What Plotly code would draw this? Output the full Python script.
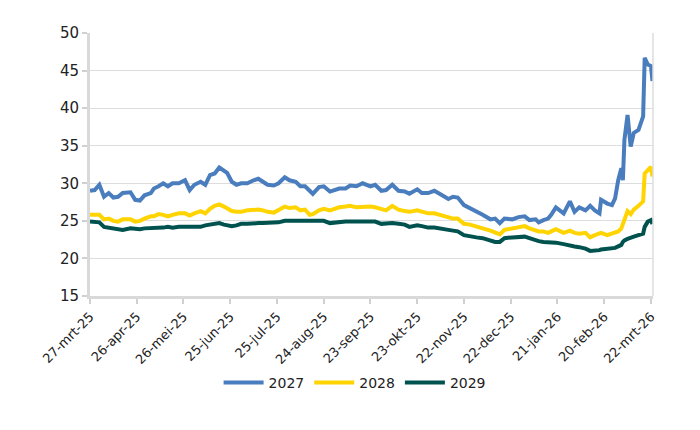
import pandas as pd
import plotly.graph_objects as go

# days since 27-mrt-25
days = [0, 3, 6, 9, 12, 15, 18, 21, 26, 29,
        32, 35, 39, 41, 44, 47, 50, 53, 57, 61,
        64, 67, 71, 74, 77, 80, 83, 86, 88, 91,
        94, 97, 101, 105, 108, 111, 114, 118, 121, 125,
        128, 132, 135, 138, 141, 143, 147, 150, 154, 157,
        160, 164, 167, 171, 175, 180, 183, 187, 190, 194,
        198, 202, 205, 210, 213, 217, 221, 226, 230, 233,
        236, 240, 244, 248, 252, 257, 260, 263, 266, 271,
        275, 279, 282, 286, 288, 291, 294, 296, 299, 304,
        308, 311, 314, 318, 321, 324, 327, 328, 332, 335,
        337, 339, 341, 342, 343, 345, 347, 349, 352, 355,
        356, 358, 360, 361]

s2027 = [29.0, 29.1, 29.8, 28.2, 28.7, 28.1, 28.2, 28.7, 28.8, 27.8,
         27.7, 28.4, 28.7, 29.3, 29.6, 30.0, 29.6, 30.0, 30.0, 30.4,
         29.1, 29.8, 30.2, 29.8, 31.1, 31.3, 32.1, 31.6, 31.4, 30.2,
         29.8, 30.0, 30.0, 30.4, 30.6, 30.2, 29.8, 29.7, 30.0, 30.8,
         30.4, 30.2, 29.6, 29.6, 28.9, 28.6, 29.5, 29.6, 28.9, 29.1,
         29.3, 29.3, 29.7, 29.6, 30.0, 29.6, 29.8, 29.0, 29.1, 29.8,
         29.0, 28.9, 28.6, 29.2, 28.7, 28.7, 29.0, 28.4, 27.9, 28.2,
         28.1, 27.1, 26.7, 26.2, 25.8, 25.2, 25.3, 24.7, 25.3, 25.2,
         25.5, 25.6, 25.1, 25.2, 24.8, 25.1, 25.3, 25.8, 26.8, 26.0,
         27.6, 26.2, 26.8, 26.4, 27.0, 26.4, 26.0, 27.8, 27.3, 27.1,
         28.0, 30.4, 32.0, 30.4, 35.8, 39.1, 34.9, 36.7, 37.1, 38.9,
         46.7, 45.8, 45.6, 43.6]

s2028 = [25.8, 25.8, 25.8, 25.2, 25.3, 25.0, 24.9, 25.2, 25.2, 24.9,
         25.0, 25.3, 25.6, 25.6, 25.9, 25.8, 25.6, 25.8, 26.0, 26.0,
         25.7, 26.0, 26.3, 26.0, 26.6, 27.0, 27.2, 26.9, 26.7, 26.3,
         26.2, 26.2, 26.4, 26.5, 26.5, 26.4, 26.2, 26.1, 26.4, 26.9,
         26.7, 26.8, 26.4, 26.5, 25.8, 25.9, 26.4, 26.6, 26.4, 26.6,
         26.8, 26.9, 27.0, 26.8, 26.9, 26.9, 26.8, 26.6, 26.4, 27.0,
         26.5, 26.3, 26.2, 26.4, 26.2, 26.0, 26.0, 25.7, 25.4, 25.3,
         25.3, 24.6, 24.5, 24.2, 24.0, 23.7, 23.4, 23.2, 23.8, 24.0,
         24.1, 24.3, 24.0, 23.7, 23.6, 23.6, 23.4, 23.6, 23.9, 23.4,
         23.7, 23.4, 23.3, 23.4, 22.8, 23.1, 23.4, 23.4, 23.1, 23.3,
         23.4, 23.6, 24.0, 24.6, 25.4, 26.3, 25.9, 26.5, 27.0, 27.6,
         31.3, 31.8, 32.2, 30.9]

s2029 = [24.9, 24.9, 24.8, 24.2, 24.1, 23.9, 23.8, 23.8, 24.0, 23.9,
         23.9, 24.0, 24.0, 24.1, 24.1, 24.1, 24.2, 24.1, 24.2, 24.2,
         24.2, 24.1, 24.2, 24.4, 24.5, 24.6, 24.7, 24.5, 24.4, 24.3,
         24.4, 24.6, 24.6, 24.7, 24.7, 24.7, 24.7, 24.8, 24.8, 25.0,
         25.0, 24.9, 24.9, 24.9, 24.9, 24.9, 25.0, 25.0, 24.7, 24.8,
         24.9, 24.9, 24.9, 24.9, 24.8, 24.9, 24.9, 24.6, 24.7, 24.7,
         24.6, 24.5, 24.2, 24.4, 24.3, 24.1, 24.1, 24.0, 23.8, 23.7,
         23.6, 23.1, 22.9, 22.8, 22.7, 22.4, 22.2, 22.2, 22.7, 22.8,
         22.8, 22.9, 22.7, 22.4, 22.3, 22.2, 22.2, 22.2, 22.1, 21.9,
         21.8, 21.6, 21.5, 21.3, 21.0, 21.0, 21.1, 21.2, 21.3, 21.3,
         21.4, 21.6, 21.8, 22.2, 22.4, 22.6, 22.7, 22.9, 23.1, 23.3,
         24.2, 24.9, 25.1, 24.6]

tick_dates = ["2025-03-27", "2025-04-26", "2025-05-26", "2025-06-25", "2025-07-25",
              "2025-08-24", "2025-09-23", "2025-10-23", "2025-11-22", "2025-12-22",
              "2026-01-21", "2026-02-20", "2026-03-22"]
tick_labels = ["27-mrt-25", "26-apr-25", "26-mei-25", "25-jun-25", "25-jul-25",
               "24-aug-25", "23-sep-25", "23-okt-25", "22-nov-25", "22-dec-25",
               "21-jan-26", "20-feb-26", "22-mrt-26"]

start = pd.Timestamp("2025-03-27")
dates = [start + pd.Timedelta(days=d) for d in days]

series = [("2027", s2027, "#4a7dbd"), ("2028", s2028, "#ffd400"), ("2029", s2029, "#00524e")]

fig = go.Figure()
for name, vals, col in series:
    fig.add_trace(go.Scatter(x=dates, y=vals, name=name, mode="lines",
                             line=dict(color=col, width=4)))

font_family = "DejaVu Sans, Liberation Sans, sans-serif"
fig.update_layout(
    width=700, height=430,
    margin=dict(l=82, r=55, t=25, b=142),
    paper_bgcolor="white", plot_bgcolor="white",
    font=dict(family=font_family, color="#222222"),
    showlegend=True,
    legend=dict(orientation="h", x=0.47, xanchor="center", y=-0.33, yanchor="middle",
                font=dict(size=14, color="#222222"), itemwidth=40, tracegroupgap=0),
    xaxis=dict(type="date", range=["2025-03-27", "2026-03-23 08:00"],
               tickvals=tick_dates, ticktext=tick_labels, tickangle=-45,
               tickfont=dict(size=13, color="#222222"),
               showgrid=False, showline=True, linecolor="#d9d9d9", linewidth=3,
               ticks="outside", ticklen=5, tickcolor="#d0d0d0", tickwidth=1.5, zeroline=False),
    yaxis=dict(range=[15, 50], tickvals=[15, 20, 25, 30, 35, 40, 45, 50],
               tickfont=dict(size=15, color="#222222"),
               showgrid=True, gridcolor="#dddddd", gridwidth=1,
               showline=True, linecolor="#d9d9d9", linewidth=3,
               ticks="outside", ticklen=5, tickcolor="#d0d0d0", tickwidth=1.5, zeroline=False),
)
fig.add_shape(type="line", xref="paper", yref="paper", x0=1, x1=1, y0=0, y1=1,
              line=dict(color="#dddddd", width=1.5))

fig.write_html("out.html")
